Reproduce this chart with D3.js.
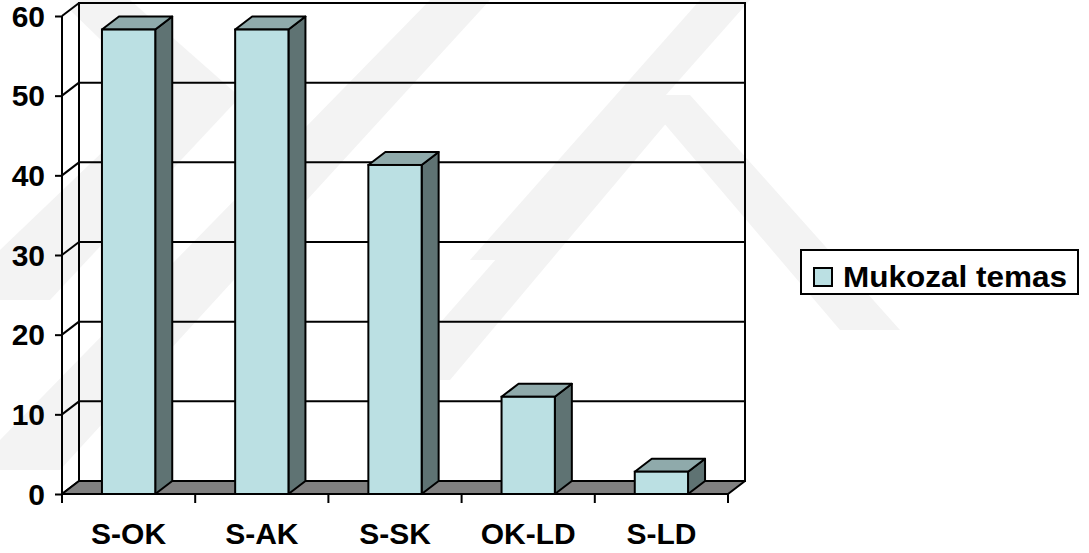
<!DOCTYPE html>
<html>
<head>
<meta charset="utf-8">
<script src="https://cdn.jsdelivr.net/npm/d3@7"></script>
<style>
  html, body { margin: 0; padding: 0; background: #fff; }
  svg { display: block; }
  text { font-family: "Liberation Sans", Arial, sans-serif; font-weight: bold; fill: #000; }
</style>
</head>
<body>
<svg id="chart" width="1089" height="553"></svg>
<script>
// Categories and values for the 3D column chart
const categories = ["S-OK", "S-AK", "S-SK", "OK-LD", "S-LD"];
const values = [58.3, 58.3, 41.3, 12.2, 2.8];
const seriesName = "Mukozal temas";
const yTicks = [0, 10, 20, 30, 40, 50, 60];

const svg = d3.select("#chart");

// Plot geometry (front plane) and depth offset for the 3D look
const x0 = 62, x1 = 728, yBase = 494, yTop = 16;
const dx = 17, dy = -13;

const colors = {
  front: "#bbe0e3",
  side: "#5f7373",
  top: "#8faaab",
  floor: "#808080",
  wm: "#f3f3f3"
};

// Faint background watermark shapes
const wm = svg.append("g").attr("fill", colors.wm);
const wmShapes = [
  [[70, 0], [130, 0], [240, 97], [50, 300], [0, 300], [0, 250], [160, 97], [70, 10]],
  [[430, 0], [490, 0], [60, 470], [0, 470], [0, 440]],
  [[640, 95], [690, 95], [900, 330], [840, 330]],
  [[640, 95], [690, 95], [450, 380], [390, 380]],
  [[700, 0], [750, 0], [520, 260], [470, 260]]
];
wm.selectAll("polygon").data(wmShapes).join("polygon")
  .attr("points", d => d.map(p => p.join(",")).join(" "));

const x = d3.scaleBand().domain(categories).range([x0, x1])
  .paddingInner(0.6).paddingOuter(0.3);
const xEdges = d3.scaleBand().domain(categories).range([x0, x1]).padding(0);
const y = d3.scaleLinear().domain([0, 60]).range([yBase, yTop]);

const g = svg.append("g");

// Back wall with horizontal gridlines
g.append("rect")
  .attr("x", x0 + dx).attr("y", yTop + dy)
  .attr("width", x1 - x0).attr("height", yBase - yTop)
  .attr("fill", "none").attr("stroke", "#000").attr("stroke-width", 2);

g.selectAll("line.grid").data(yTicks.filter(t => t > 0 && t < 60)).join("line")
  .attr("class", "grid")
  .attr("x1", x0 + dx).attr("x2", x1 + dx)
  .attr("y1", d => y(d) + dy).attr("y2", d => y(d) + dy)
  .attr("stroke", "#000").attr("stroke-width", 2);

// Side wall diagonals linking the front axis to the back wall
g.selectAll("line.diag").data(yTicks).join("line")
  .attr("class", "diag")
  .attr("x1", x0).attr("x2", x0 + dx)
  .attr("y1", d => y(d)).attr("y2", d => y(d) + dy)
  .attr("stroke", "#000").attr("stroke-width", 2);

// Floor
g.append("polygon")
  .attr("points", [[x0, yBase], [x1, yBase], [x1 + dx, yBase + dy], [x0 + dx, yBase + dy]].map(p => p.join(",")).join(" "))
  .attr("fill", colors.floor).attr("stroke", "#000").attr("stroke-width", 2)
  .attr("stroke-linejoin", "round");

// Columns: side, top and front faces
const bars = g.selectAll("g.bar").data(categories.map((c, i) => ({ c, v: values[i] }))).join("g").attr("class", "bar");
const bw = x.bandwidth();
bars.append("polygon")
  .attr("points", d => {
    const l = x(d.c), r = l + bw, t = y(d.v);
    return [[r, yBase], [r + dx, yBase + dy], [r + dx, t + dy], [r, t]].map(p => p.join(",")).join(" ");
  })
  .attr("fill", colors.side).attr("stroke", "#000").attr("stroke-width", 2).attr("stroke-linejoin", "round");
bars.append("polygon")
  .attr("points", d => {
    const l = x(d.c), r = l + bw, t = y(d.v);
    return [[l, t], [r, t], [r + dx, t + dy], [l + dx, t + dy]].map(p => p.join(",")).join(" ");
  })
  .attr("fill", colors.top).attr("stroke", "#000").attr("stroke-width", 2).attr("stroke-linejoin", "round");
bars.append("rect")
  .attr("x", d => x(d.c)).attr("y", d => y(d.v))
  .attr("width", bw).attr("height", d => yBase - y(d.v))
  .attr("fill", colors.front).attr("stroke", "#000").attr("stroke-width", 2);

// Y axis
const yAxis = d3.axisLeft(y).tickValues(yTicks).tickSize(7).tickPadding(10).tickFormat(d3.format("d"));
const ya = svg.append("g").attr("transform", `translate(${x0},0)`).call(yAxis);
ya.select(".domain").attr("stroke", "#000").attr("stroke-width", 2).attr("d", `M0,${yBase}V${yTop}`);
ya.selectAll(".tick line").attr("stroke", "#000").attr("stroke-width", 2);
ya.selectAll(".tick text").attr("font-size", 30).attr("font-family", "'Liberation Sans', Arial, sans-serif")
  .attr("font-weight", "bold").attr("fill", "#000").attr("dy", "0.34em");

// X axis: boundary ticks and category labels
const edges = categories.map(c => xEdges(c)).concat([x1]);
const xa = svg.append("g");
xa.append("line").attr("x1", x0).attr("x2", x1).attr("y1", yBase).attr("y2", yBase)
  .attr("stroke", "#000").attr("stroke-width", 2);
xa.selectAll("line.tick").data(edges).join("line").attr("class", "tick")
  .attr("x1", d => d).attr("x2", d => d).attr("y1", yBase).attr("y2", yBase + 9)
  .attr("stroke", "#000").attr("stroke-width", 2);
xa.selectAll("text").data(categories).join("text")
  .attr("x", d => xEdges(d) + xEdges.bandwidth() / 2)
  .attr("y", 544)
  .attr("text-anchor", "middle")
  .attr("font-size", 30)
  .text(d => d);

// Legend
const lg = svg.append("g");
lg.append("rect").attr("x", 801).attr("y", 250).attr("width", 277).attr("height", 44)
  .attr("fill", "#fff").attr("stroke", "#000").attr("stroke-width", 2);
lg.append("rect").attr("x", 814).attr("y", 268).attr("width", 18).attr("height", 18)
  .attr("fill", colors.front).attr("stroke", "#000").attr("stroke-width", 2);
lg.append("text").attr("x", 843).attr("y", 287).attr("font-size", 30)
  .attr("textLength", 224).attr("lengthAdjust", "spacingAndGlyphs")
  .text(seriesName);
</script>
</body>
</html>
